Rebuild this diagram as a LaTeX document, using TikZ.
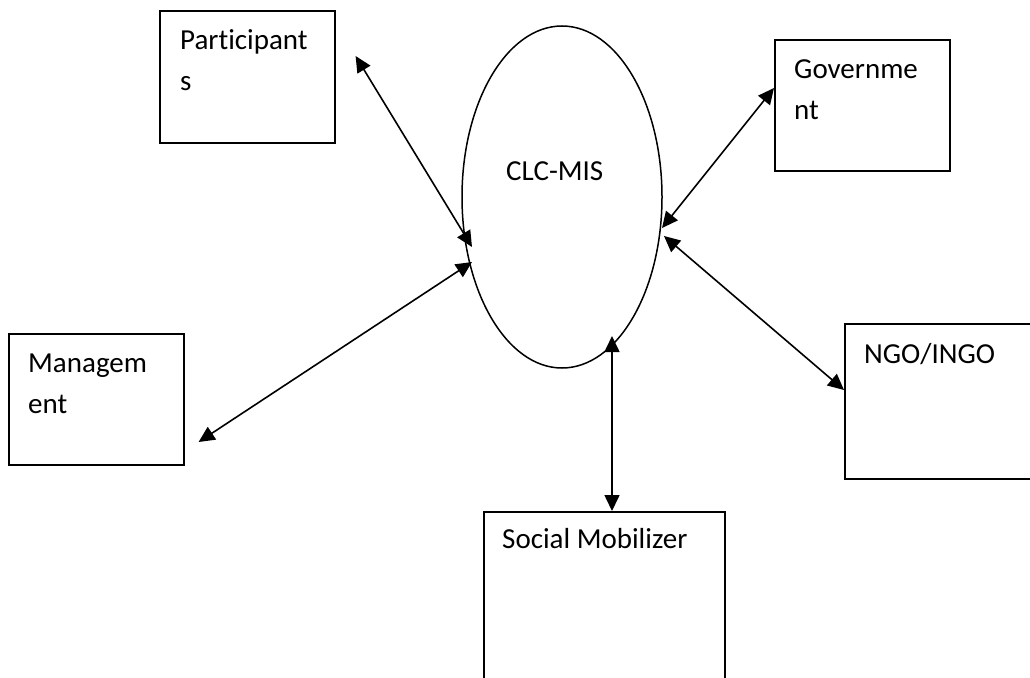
\documentclass[tikz,border=0pt]{standalone}
\usepackage{fontspec}
\setmainfont{Carlito}[Ligatures=NoCommon]
\usetikzlibrary{arrows.meta,shapes.geometric}
% two-line label whose reference point is the first baseline
\newcommand\stackedlabel[2]{\begin{tabular}[t]{@{}l@{}}#1\\#2\end{tabular}}
\begin{document}
\begin{tikzpicture}[x=1pt,y=-1pt,
  every node/.style={font=\fontsize{29pt}{41pt}\selectfont},
  box/.style={draw, rectangle, line width=1.6pt, inner sep=0pt, anchor=north west},
  caption/.style={anchor=base west, inner sep=0pt},
  link/.style={{Triangle[length=16pt,width=15pt]}-{Triangle[length=16pt,width=15pt]}, line width=1.6pt}]
\clip (0,0) rectangle (1030,677);

% central system
\node[draw, ellipse, line width=1.5pt, minimum width=200pt, minimum height=342pt, inner sep=0pt] (clc) at (562,197) {};
\node[caption] (clc-text) at (506,180) {CLC-MIS};

% surrounding actors
\node[box, minimum width=175pt, minimum height=132pt] (part) at (159,10) {};
\node[caption] (part-text) at ([shift={(21,39)}]part.north west) {\stackedlabel{Participant}{s}};

\node[box, minimum width=175pt, minimum height=131pt] (gov) at (774,39) {};
\node[caption] (gov-text) at ([shift={(20,39)}]gov.north west) {\stackedlabel{Governme}{nt}};

\node[box, minimum width=175pt, minimum height=131pt] (mgmt) at (8,333) {};
\node[caption] (mgmt-text) at ([shift={(20,39)}]mgmt.north west) {\stackedlabel{Managem}{ent}};

\node[box, minimum width=200pt, minimum height=155pt] (ngo) at (844,323) {};
\node[caption] (ngo-text) at ([shift={(20,40)}]ngo.north west) {NGO/INGO};

\node[box, minimum width=241pt, minimum height=200pt] (social) at (483,511) {};
\node[caption] (social-text) at ([shift={(19,37)}]social.north west) {Social Mobilizer};

% connector ends on the ellipse
\coordinate (clc-p) at ([shift={(-90,50)}]clc.center);
\coordinate (clc-m) at ([shift={(-90,65)}]clc.center);
\coordinate (clc-g) at ([shift={(100,31)}]clc.center);
\coordinate (clc-n) at ([shift={(102,39)}]clc.center);
\coordinate (clc-s) at ([shift={(50,139)}]clc.center);

% connector ends at the boxes
\coordinate (part-end) at ([shift={(20,46)}]part.north east);
\coordinate (mgmt-end) at ([shift={(14,109)}]mgmt.north east);
\coordinate (gov-end) at ([shift={(0,49)}]gov.north west);
\coordinate (ngo-end) at ([shift={(0,67)}]ngo.north west);
\coordinate (social-end) at ([shift={(129,0)}]social.north west);

% two-way information flows
\draw[link] (part-end) -- (clc-p);
\draw[link] (mgmt-end) -- (clc-m);
\draw[link] (gov-end) -- (clc-g);
\draw[link] (ngo-end) -- (clc-n);
\draw[link] (social-end) -- (clc-s);
\end{tikzpicture}
\end{document}
